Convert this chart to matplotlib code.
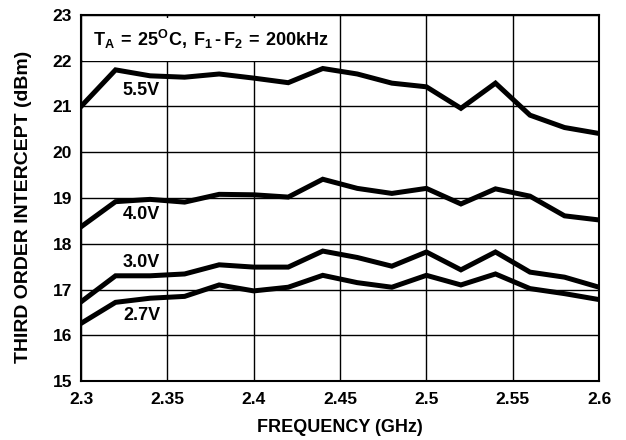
import matplotlib
matplotlib.use("Agg")
import matplotlib.pyplot as plt

plt.rcParams['font.family'] = ['Liberation Sans', 'DejaVu Sans']
plt.rcParams['font.weight'] = 'bold'
plt.rcParams['mathtext.fontset'] = 'custom'
plt.rcParams['mathtext.rm'] = 'Liberation Sans:bold'
plt.rcParams['mathtext.bf'] = 'Liberation Sans:bold'
plt.rcParams['mathtext.it'] = 'Liberation Sans:bold'

freq = [2.30, 2.32, 2.34, 2.36, 2.38, 2.40, 2.42, 2.44, 2.46, 2.48,
        2.50, 2.52, 2.54, 2.56, 2.58, 2.60]
v55 = [21.00, 21.80, 21.67, 21.64, 21.71, 21.62, 21.52, 21.83, 21.71, 21.51,
       21.43, 20.96, 21.51, 20.81, 20.54, 20.41]
v40 = [18.37, 18.92, 18.97, 18.91, 19.08, 19.07, 19.02, 19.41, 19.21, 19.10,
       19.21, 18.87, 19.20, 19.04, 18.61, 18.52]
v30 = [16.73, 17.30, 17.30, 17.34, 17.54, 17.49, 17.49, 17.84, 17.70, 17.51,
       17.82, 17.43, 17.82, 17.38, 17.27, 17.05]
v27 = [16.26, 16.72, 16.81, 16.85, 17.10, 16.97, 17.05, 17.31, 17.15, 17.05,
       17.31, 17.10, 17.34, 17.02, 16.91, 16.78]
series = [v55, v40, v30, v27]
labels = ["5.5V", "4.0V", "3.0V", "2.7V"]
label_y = [21.36, 18.63, 17.60, 16.43]
xticks = [2.3, 2.35, 2.4, 2.45, 2.5, 2.55, 2.6]
xtick_labels = ["2.3", "2.35", "2.4", "2.45", "2.5", "2.55", "2.6"]
yticks = [15, 16, 17, 18, 19, 20, 21, 22, 23]

fig = plt.figure(figsize=(6.26, 4.40), dpi=100)
ax = fig.add_axes([0.1294, 0.134, 0.8276, 0.832])

for s in series:
    ax.plot(freq, s, color='black', linewidth=3.6, solid_joinstyle='miter', zorder=3)

for lab, ly in zip(labels, label_y):
    ax.text(2.335, ly, lab, ha='center', va='center', fontsize=13,
            fontweight='bold', zorder=4)

ax.text(2.3070, 22.47,
        r"$\mathbf{T_A\:=\:25^{O}C,\:F_1\,\text{-}\,F_2\:=\:200kHz}$",
        ha='left', va='center', fontsize=13, zorder=5,
        bbox=dict(facecolor='white', edgecolor='none', pad=7))

ax.set_xlim(2.3, 2.6)
ax.set_ylim(15, 23)
ax.set_xticks(xticks)
ax.set_xticklabels(xtick_labels)
ax.set_yticks(yticks)
ax.grid(True, color='black', linewidth=1.0)
ax.set_axisbelow(True)
ax.tick_params(length=0, labelsize=12.5)
ax.tick_params(axis='x', pad=8)
ax.tick_params(axis='y', pad=6.5)
for lbl in ax.get_xticklabels() + ax.get_yticklabels():
    lbl.set_fontweight('bold')
for sp in ax.spines.values():
    sp.set_linewidth(1.5)

fig.text(339.5 / 626, 1 - 427.5 / 440, "FREQUENCY (GHz)", fontsize=13,
         fontweight='bold', ha='center', va='center')
fig.text(24 / 626, 1 - 207 / 440, "THIRD ORDER INTERCEPT (dBm)", fontsize=14,
         fontweight='bold', ha='center', va='center', rotation=90)

fig.savefig("out.png", dpi=100)
